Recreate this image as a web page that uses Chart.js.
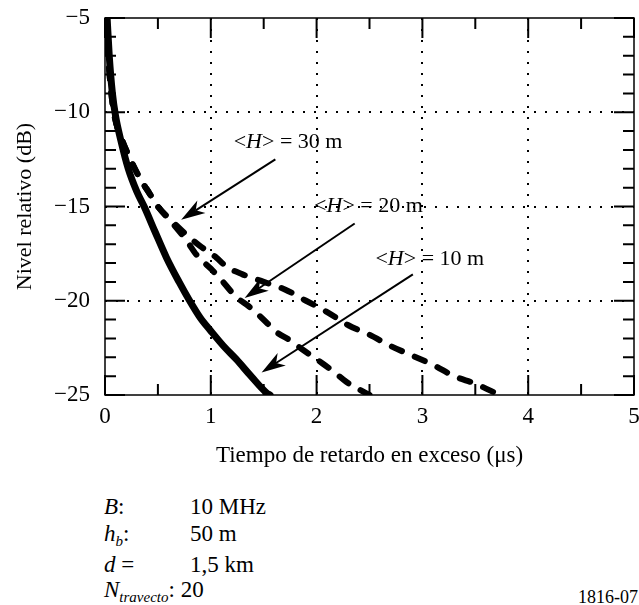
<!DOCTYPE html>
<html><head><meta charset="utf-8">
<script src="https://cdn.jsdelivr.net/npm/chart.js@4.4.1/dist/chart.umd.min.js"></script>
<style>
html,body{margin:0;padding:0;background:#fff;}
#wrap{position:relative;width:639px;height:605px;overflow:hidden;}
#cw{position:absolute;left:0;top:0;width:639px;height:480px;}
.t{position:absolute;font-family:"Liberation Serif","Times New Roman",serif;font-size:23px;color:#000;white-space:nowrap;line-height:23px;}
.t sub{font-size:15px;vertical-align:-5px;line-height:0;}
</style></head><body>
<div id="wrap">
<div id="cw"><canvas id="c"></canvas></div>
<div class="t" style="left:104px;top:495px"><i>B</i>:</div>
<div class="t" style="left:190px;top:495px">10 MHz</div>
<div class="t" style="left:104px;top:522px"><i>h<sub>b</sub></i>:</div>
<div class="t" style="left:190px;top:522px">50 m</div>
<div class="t" style="left:104px;top:553px"><i>d</i> =</div>
<div class="t" style="left:190px;top:553px">1,5 km</div>
<div class="t" style="left:104px;top:578px"><i>N<sub>travecto</sub></i>: 20</div>
<div class="t" style="left:578px;top:588px;font-size:18px;line-height:18px">1816-07</div>
</div>
<script>
// ---- data ----
const xTickValues = [0, 1, 2, 3, 4, 5];
const yTickValues = [-25, -20, -15, -10, -5];

const delay10 = [0.02, 0.04, 0.07, 0.10, 0.15, 0.22, 0.30, 0.37, 0.47, 0.58, 0.70, 0.80, 0.90, 1.00, 1.12, 1.24, 1.38, 1.53, 1.56];
const level10 = [-5, -7, -9, -10.2, -11.5, -13.0, -14.2, -15.0, -16.3, -17.7, -19.0, -20.0, -20.9, -21.6, -22.4, -23.1, -24.0, -24.9, -25];

const delay20 = [0.01, 0.03, 0.06, 0.09, 0.15, 0.24, 0.33, 0.42, 0.50, 0.64, 0.77, 0.87, 1.00, 1.10, 1.24, 1.36, 1.48, 1.63, 1.75, 1.87, 2.05, 2.17, 2.28, 2.40, 2.50];
const level20 = [-5, -7, -9, -10.2, -11.3, -12.5, -13.5, -14.3, -15.0, -15.9, -16.8, -17.6, -18.3, -18.9, -19.8, -20.3, -20.9, -21.7, -22.1, -22.6, -23.3, -23.8, -24.3, -24.7, -25];

const delay30 = [0.01, 0.03, 0.06, 0.09, 0.15, 0.24, 0.33, 0.42, 0.50, 0.62, 0.77, 0.90, 1.05, 1.15, 1.30, 1.50, 1.70, 1.90, 2.10, 2.30, 2.50, 2.70, 2.90, 3.10, 3.30, 3.50, 3.73];
const level30 = [-5, -7, -9, -10.2, -11.3, -12.5, -13.5, -14.3, -15.0, -15.7, -16.5, -17.1, -17.7, -18.2, -18.6, -19.0, -19.4, -20.0, -20.6, -21.3, -21.8, -22.4, -22.9, -23.4, -24.0, -24.4, -25];

const heightLabels = ['30', '20', '10'];
const xTitle = 'Tiempo de retardo en exceso (μs)';
const yTitle = 'Nivel relativo (dB)';

// annotation placement (data coordinates)
const annotations = [
  {label: heightLabels[0], tx: 1.73, ty: -11.6, from: [1.61, -12.5], to: [0.72, -15.7]},
  {label: heightLabels[1], tx: 2.49, ty: -15.0, from: [2.36, -15.9], to: [1.32, -19.85]},
  {label: heightLabels[2], tx: 3.07, ty: -17.8, from: [2.91, -18.6], to: [1.48, -23.8]}
];

const FONT = '"Liberation Serif", "Times New Roman", serif';
const pts = (xs, ys) => xs.map((x, i) => ({x, y: ys[i]}));

const framePlugin = {
  id: 'frame',
  afterDatasetsDraw(chart) {
    const {ctx, chartArea: a, scales: {x, y}} = chart;
    ctx.save();
    ctx.strokeStyle = '#000';
    // inward ticks (major + minor) on all four sides
    ctx.lineWidth = 2;
    ctx.beginPath();
    for (let v = 0; v <= 5.001; v += 0.5) {
      const px = x.getPixelForValue(v);
      const major = Math.abs(v - Math.round(v)) < 1e-6;
      const L = major ? 20 : 11;
      ctx.moveTo(px, a.bottom); ctx.lineTo(px, a.bottom - L);
      ctx.moveTo(px, a.top); ctx.lineTo(px, a.top + L);
    }
    for (let v = -25; v <= -5; v += 1) {
      const py = y.getPixelForValue(v);
      const L = (v % 5 === 0) ? 20 : 11;
      ctx.moveTo(a.left, py); ctx.lineTo(a.left + L, py);
      ctx.moveTo(a.right, py); ctx.lineTo(a.right - L, py);
    }
    ctx.stroke();
    // box
    ctx.lineWidth = 1.5;
    ctx.strokeRect(a.left, a.top, a.right - a.left, a.bottom - a.top);

    // annotations with arrows
    ctx.fillStyle = '#000';
    annotations.forEach(an => {
      const tx = x.getPixelForValue(an.tx), ty = y.getPixelForValue(an.ty);
      const parts = [
        {t: '<', f: '22px ' + FONT},
        {t: 'H', f: 'italic 22px ' + FONT},
        {t: '> = ' + an.label + ' m', f: '22px ' + FONT}
      ];
      let w = 0;
      parts.forEach(p => { ctx.font = p.f; p.w = ctx.measureText(p.t).width; w += p.w; });
      let cx = tx - w / 2;
      ctx.textBaseline = 'middle';
      ctx.textAlign = 'left';
      parts.forEach(p => { ctx.font = p.f; ctx.fillText(p.t, cx, ty); cx += p.w; });

      const sx = x.getPixelForValue(an.from[0]), sy = y.getPixelForValue(an.from[1]);
      const ex = x.getPixelForValue(an.to[0]), ey = y.getPixelForValue(an.to[1]);
      const dx = ex - sx, dy = ey - sy, len = Math.hypot(dx, dy);
      const ux = dx / len, uy = dy / len, nx = -uy, ny = ux;
      const L = 24, W = 7.5;
      const bx = ex - ux * L, by = ey - uy * L;
      const mx = ex - ux * L * 0.72, my = ey - uy * L * 0.72;
      ctx.lineWidth = 2;
      ctx.beginPath(); ctx.moveTo(sx, sy); ctx.lineTo(mx, my); ctx.stroke();
      ctx.beginPath();
      ctx.moveTo(ex, ey);
      ctx.lineTo(bx + nx * W, by + ny * W);
      ctx.lineTo(mx, my);
      ctx.lineTo(bx - nx * W, by - ny * W);
      ctx.closePath(); ctx.fill();
    });
    ctx.restore();
  }
};

const common = {
  showLine: true, pointRadius: 0, borderColor: '#000', backgroundColor: '#000',
  cubicInterpolationMode: 'monotone', fill: false
};

new Chart(document.getElementById('c'), {
  type: 'scatter',
  data: {
    datasets: [
      Object.assign({label: '30 m', data: pts(delay30, level30), borderWidth: 6, borderDash: [11, 14], borderCapStyle: 'round'}, common),
      Object.assign({label: '20 m', data: pts(delay20, level20), borderWidth: 6, borderDash: [11, 14], borderCapStyle: 'round'}, common),
      Object.assign({label: '10 m', data: pts(delay10, level10), borderWidth: 7, borderCapStyle: 'round'}, common)
    ]
  },
  options: {
    responsive: true, maintainAspectRatio: false, animation: false,
    layout: {padding: {left: 12, top: 18, right: 5, bottom: 10}},
    plugins: {legend: {display: false}, tooltip: {enabled: false}},
    scales: {
      x: {
        type: 'linear', min: 0, max: 5,
        afterBuildTicks: s => { s.ticks = xTickValues.map(v => ({value: v})); },
        afterFit: s => { s.height = 75; s.paddingLeft = 0; s.paddingRight = 0; },
        ticks: {color: '#000', font: {family: FONT, size: 23}, padding: 8, maxRotation: 0},
        grid: {drawTicks: false, lineWidth: 2,
               color: c => (c.tick && c.tick.value > 0 && c.tick.value < 5) ? '#000' : 'rgba(0,0,0,0)'},
        border: {display: false, dash: [2, 9]},
        title: {display: true, text: xTitle, color: '#000', font: {family: FONT, size: 23}, padding: 0}
      },
      y: {
        type: 'linear', min: -25, max: -5,
        afterBuildTicks: s => { s.ticks = yTickValues.map(v => ({value: v})); },
        afterFit: s => { s.width = 93; s.paddingTop = 0; s.paddingBottom = 0; },
        ticks: {color: '#000', font: {family: FONT, size: 23}, padding: 15,
                callback: v => (v < 0 ? '\u2212' : '') + Math.abs(v)},
        grid: {drawTicks: false, lineWidth: 2,
               color: c => (c.tick && c.tick.value > -25 && c.tick.value < -5) ? '#000' : 'rgba(0,0,0,0)'},
        border: {display: false, dash: [2, 9]},
        title: {display: true, text: yTitle, color: '#000', font: {family: FONT, size: 22}, padding: 0}
      }
    }
  },
  plugins: [framePlugin]
});
</script>
</body></html>
